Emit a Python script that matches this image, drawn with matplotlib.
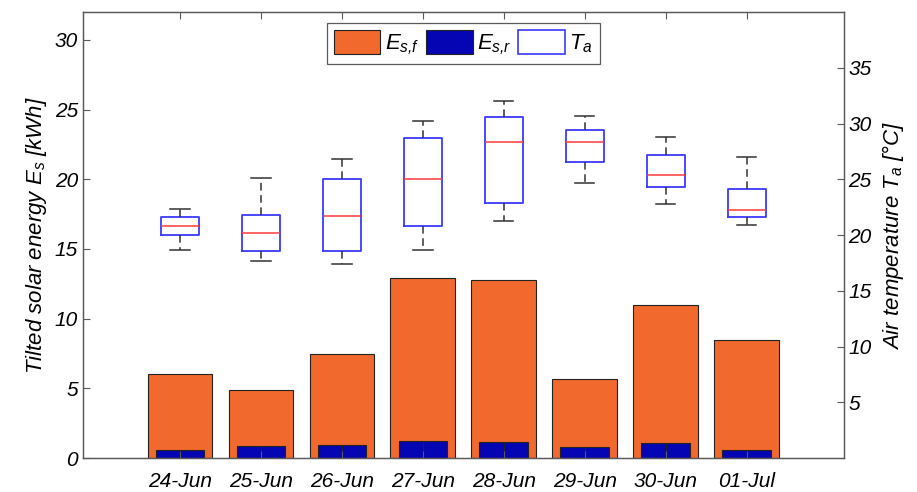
import numpy as np
import matplotlib
matplotlib.use('Agg')
import matplotlib.pyplot as plt
import matplotlib.patches as mpatches

# italic Arial-like look everywhere
plt.rcParams['font.family'] = ['Liberation Sans', 'DejaVu Sans']
plt.rcParams['font.style'] = 'italic'
plt.rcParams['mathtext.fontset'] = 'custom'
plt.rcParams['mathtext.it'] = 'Liberation Sans:italic'
plt.rcParams['mathtext.rm'] = 'Liberation Sans:italic'

# %% data
days = ['24-Jun', '25-Jun', '26-Jun', '27-Jun', '28-Jun', '29-Jun', '30-Jun', '01-Jul']
es_f = [6.0, 4.9, 7.5, 12.9, 12.8, 5.7, 11.0, 8.5]     # kWh
es_r = [0.6, 0.85, 0.95, 1.2, 1.15, 0.8, 1.05, 0.6]    # kWh

# air temperature box stats (degC)
t_whislo = [18.7, 17.7, 17.4, 18.7, 21.3, 24.7, 22.8, 20.9]
t_q1 = [20.0, 18.6, 18.6, 20.85, 22.9, 26.55, 24.3, 21.6]
t_med = [20.8, 20.2, 21.75, 25.0, 28.3, 28.3, 25.4, 22.25]
t_q3 = [21.6, 21.8, 25.0, 28.7, 30.6, 29.4, 27.2, 24.1]
t_whishi = [22.3, 25.1, 26.8, 30.2, 32.0, 30.65, 28.8, 27.0]

orange = '#F2692E'
blue = '#0505B4'
frame = '#5a5a5a'

# %% plot
x = np.arange(1, len(days) + 1)
fig = plt.figure(figsize=(9.17, 4.92), dpi=100)
ax = fig.add_axes([0.0905, 0.069, 0.8295, 0.9066])
ax2 = ax.twinx()

ax.bar(x, es_f, width=0.8, color=orange, edgecolor='#222222', lw=0.8, label='$E_{s{,}f}$')
ax.bar(x - 0.15, es_r, width=0.3, color=blue, edgecolor='#222222', lw=0.8, label='$E_{s{,}r}$')
ax.bar(x + 0.15, es_r, width=0.3, color=blue, edgecolor='#222222', lw=0.8)

stats = [dict(med=m, q1=a, q3=b, whislo=lo, whishi=hi, fliers=[])
         for lo, a, m, b, hi in zip(t_whislo, t_q1, t_med, t_q3, t_whishi)]
ax2.bxp(stats, positions=x, widths=0.47, capwidths=0.24, showfliers=False,
        manage_ticks=False,
        boxprops=dict(color='#3a3aff', lw=1.3),
        medianprops=dict(color='#ff3a3a', lw=1.1),
        whiskerprops=dict(color='#333333', lw=1.1, ls=(0, (5, 3))),
        capprops=dict(color='#333333', lw=1.1))

ax.set_xlim(-0.2, 9.2)
ax.set_ylim(0, 32)
ax2.set_ylim(0, 40)
ax.set_xticks(x, days)
ax.set_yticks([0, 5, 10, 15, 20, 25, 30])
ax2.set_yticks([5, 10, 15, 20, 25, 30, 35])

for a in (ax, ax2):
    for s in a.spines.values():
        s.set_color(frame)
        s.set_linewidth(0.9)
ax.tick_params(axis='both', direction='in', labelsize=15, color=frame, length=5, top=True)
ax.tick_params(axis='x', pad=10)
ax2.tick_params(axis='y', direction='in', labelsize=15, color=frame, length=5)

ax.set_ylabel('Tilted solar energy $E_s$ [kWh]', fontsize=16, labelpad=4)
ax2.set_ylabel('Air temperature $T_a$ [°C]', fontsize=16, labelpad=6)

handles, labels = ax.get_legend_handles_labels()
handles.append(mpatches.Patch(facecolor='white', edgecolor='#3a3aff', lw=1.2))
labels.append('$T_a$')
leg = ax2.legend(handles, labels, loc='upper center', ncol=3, fontsize=16,
                 handlelength=2.1, handleheight=1.3, handletextpad=0.2,
                 columnspacing=0.3, borderpad=0.3, borderaxespad=0.5,
                 fancybox=False, framealpha=1)
leg.get_frame().set_edgecolor(frame)
leg.get_frame().set_linewidth(0.9)

fig.savefig('out.png', dpi=100)
